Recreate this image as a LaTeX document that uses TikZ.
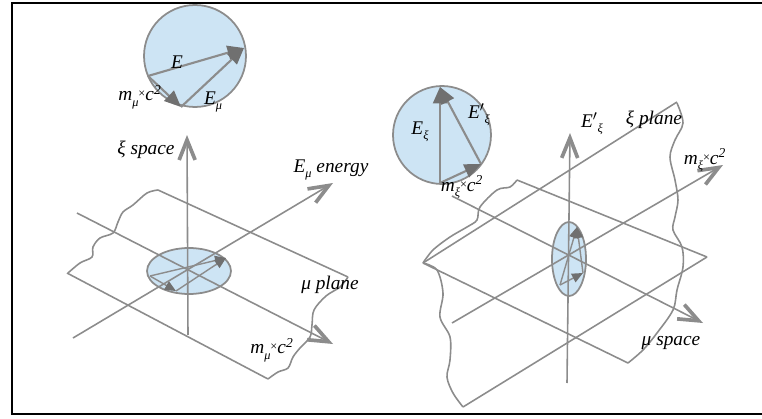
\documentclass[tikz,border=0pt]{standalone}
\usepackage{fontspec}
\setmainfont{Liberation Serif}
\usepackage{xcolor}
\usetikzlibrary{arrows.meta}
\definecolor{linegray}{RGB}{140,140,140}
\definecolor{headgray}{RGB}{112,112,112}
\definecolor{discblue}{RGB}{205,228,244}
\newcommand{\lowidx}[1]{\raisebox{-0.6ex}{\scriptsize\itshape #1}}
\newcommand{\msq}[1]{\textit{m}\lowidx{#1}\raisebox{0.35ex}{\scriptsize\upshape×}\textit{c}\textsuperscript{2}}

\begin{document}
\begin{tikzpicture}[x=0.02cm,y=-0.02cm,
edge/.style={draw=linegray,line width=0.9pt},
wavy/.style={draw=linegray,line width=0.9pt,smooth,tension=0.55},
axis/.style={draw=linegray,line width=0.9pt,
  -{Straight Barb[length=4mm,width=3.2mm,line width=2.1pt,color=linegray]}},
disc/.style={draw=linegray,line width=1pt,fill=discblue},
vec/.style={draw=linegray,line width=1.2pt,
  -{Triangle[length=3.3mm,width=2.8mm,color=headgray]}},
smallvec/.style={draw=linegray,line width=0.8pt,
  -{Triangle[length=2.2mm,width=1.9mm,color=headgray]}},
lbl/.style={font=\fontsize{11}{13}\selectfont\itshape,inner sep=0pt}]
\useasboundingbox (0,0) rectangle (762,419);
\draw[line width=1.7pt] (762,3) -- (12,3) -- (12,414) -- (762,414);

% left: mu plane
\draw[edge] (158,190) -- (348,277);
\draw[edge] (67,273) -- (268,379);
\draw[wavy] plot coordinates {(158,190) (147,193) (133,205) (123,212) (118,222) (113,233) (100,238) (93,247) (92,257) (80,263) (68,273)};
\draw[wavy] plot coordinates {(348,277) (340,287) (326,296) (314,310) (312,325) (310,337) (300,348) (293,357) (288,368) (278,372) (268,379)};
\draw[disc] (189,271) ellipse [x radius=0.84cm,y radius=0.46cm];
\coordinate (dL) at (150,276);
\coordinate (dR) at (226,258);
\coordinate (dB) at (176,291);
\draw[smallvec] (dL) -- (dR);
\draw[smallvec] (dL) -- (dB);
\draw[smallvec] (dB) -- (dR);
\draw[axis] (188,335) -- (187,135);
\draw[axis] (77,213) -- (333,344);
\draw[axis] (73,338) -- (333,183);

% left: energy circle
\draw[disc] (195,56) circle [radius=1.02cm];
\coordinate (eL) at (148,76);
\coordinate (eR) at (244,48);
\coordinate (eB) at (181,107);
\draw[vec] (eL) -- (eR);
\draw[vec] (eL) -- (eB);
\draw[vec] (eB) -- (eR);

\node[lbl] (lE) at (177,62) {E};
\node[lbl] (lmtop) at (140,97) {\msq{μ}};
\node[lbl] (lEmu) at (213,102) {E\lowidx{μ}};
\node[lbl] (lxispace) at (146,150) {ξ space};
\node[lbl] (lenergy) at (331,170) {E\lowidx{μ} energy};
\node[lbl] (lmuplane) at (330,285) {μ plane};
\node[lbl] (lmbot) at (272,350) {\msq{μ}};

% right: xi plane and mu space
\draw[edge] (423,263) -- (677,102);
\draw[edge] (463,407) -- (707,257);
\draw[edge] (517,180) -- (707,257);
\draw[edge] (423,263) -- (628,363);
\draw[wavy] plot coordinates {(517,180) (510,187) (497,190) (480,207) (477,220) (467,227) (450,237) (433,250) (423,263)};
\draw[wavy] plot coordinates {(423,263) (437,270) (443,293) (440,317) (450,337) (450,360) (447,377) (453,393) (463,407)};
\draw[wavy] plot coordinates {(677,103) (683,123) (675,140) (670,157) (675,180) (678,200) (675,217) (673,230) (682,247) (683,267) (677,290) (673,310) (657,333) (643,350) (628,363)};
\draw[disc] (569,259) ellipse [x radius=0.34cm,y radius=0.74cm];
\coordinate (qB) at (560,285);
\coordinate (qT) at (577,227);
\coordinate (qR) at (583,273);
\draw[smallvec] (qB) -- (qT);
\draw[smallvec] (qR) -- (qT);
\draw[smallvec] (qB) -- (qR);
\draw[axis] (567,383) -- (570,133);
\draw[axis] (452,196) -- (703,323);
\draw[axis] (452,323) -- (723,165);

% right: energy circle
\draw[disc] (442,135) circle [radius=0.98cm];
\coordinate (xB) at (440,183);
\coordinate (xT) at (440,87);
\coordinate (xR) at (481,164);
\draw[vec] (xB) -- (xT);
\draw[vec] (xR) -- (xT);
\draw[vec] (xB) -- (xR);

\node[lbl] (lExi) at (420,132) {E\lowidx{ξ}};
\node[lbl] (lEpc) at (479,115) {E$'$\lowidx{ξ}};
\node[lbl] (lmxi) at (462,187) {\msq{ξ}};
\node[lbl] (lEpax) at (592,124) {E$'$\lowidx{ξ}};
\node[lbl] (lxiplane) at (654,120) {ξ plane};
\node[lbl] (lmright) at (705,160) {\msq{ξ}};
\node[lbl] (lmuspace) at (671,343) {μ space};
\end{tikzpicture}
\end{document}
